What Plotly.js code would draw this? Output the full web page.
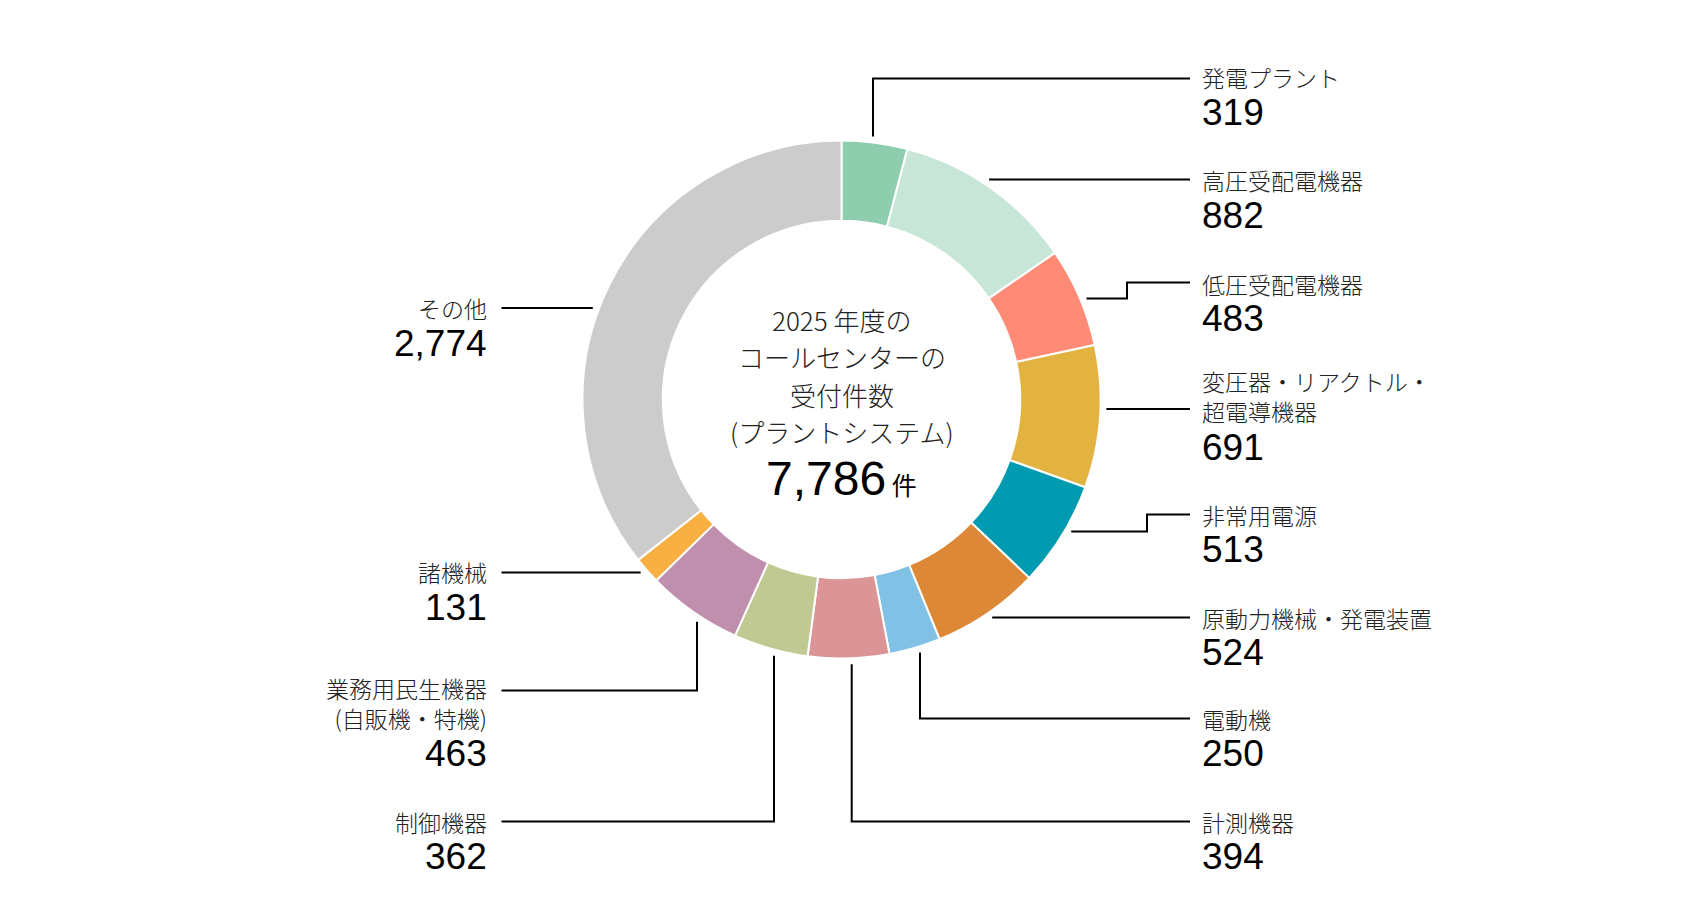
<!DOCTYPE html>
<html>
<head>
<meta charset="utf-8">
<script src="https://cdn.plot.ly/plotly-3.0.1.min.js"></script>
<style>html,body{margin:0;padding:0;background:#fff;}#chart{width:1684px;height:920px;}</style>
</head>
<body>
<div id="chart"></div>
<script>
// ---- data ----
const categories = ['発電プラント','高圧受配電機器','低圧受配電機器','変圧器・リアクトル・<br>超電導機器','非常用電源','原動力機械・発電装置','電動機','計測機器','制御機器','業務用民生機器<br>(自販機・特機)','諸機械','その他'];
const counts = [319, 882, 483, 691, 513, 524, 250, 394, 362, 463, 131, 2774];
const sliceColors = ['#8ECDAD','#C8E6D7','#FF8A75','#E3B342','#009BB1','#DD8836','#82C1E6','#DB9597','#C0C992','#C08FAD','#F8B042','#CCCCCC'];
const centerLines = ['2025 年度の','コールセンターの','受付件数','(プラントシステム)'];
const unitLabel = '件';

// ---- layout geometry ----
const W = 1684, H = 920;
const CX = 841.5, CY = 399.5, R = 259, HOLE = 0.69;
const px = x => x / W;
const py = y => 1 - y / H;
const CJK = "'Noto Sans CJK JP', 'Noto Sans', sans-serif";
const NUM = "'Liberation Sans', Arial, sans-serif";

// label placement per category (same order as categories)
// mode 'h': leader leaves the ring horizontally at lineY
// mode 'v': leader leaves the ring vertically at leadX, then turns to lineY
// mode 'step': leader leaves the ring horizontally at startY, steps at elbowX to lineY
const labelPlacement = [
  {side:'R', nameY:77.3,  lineY:78.4,  mode:'v', leadX:873},
  {side:'R', nameY:180.4, lineY:179.4, mode:'h'},
  {side:'R', nameY:283.5, lineY:282.5, mode:'step', startY:298.6, elbowX:1127},
  {side:'R', nameY:383,   lineY:409,   mode:'h'},
  {side:'R', nameY:514.5, lineY:514.5, mode:'step', startY:531.6, elbowX:1147},
  {side:'R', nameY:617.5, lineY:617.5, mode:'h'},
  {side:'R', nameY:718.5, lineY:718.5, mode:'v', leadX:920},
  {side:'R', nameY:821.6, lineY:821.6, mode:'v', leadX:851.7},
  {side:'L', nameY:821.6, lineY:821.6, mode:'v', leadX:774},
  {side:'L', nameY:689,   lineY:690.6, mode:'v', leadX:697},
  {side:'L', nameY:572.4, lineY:572.4, mode:'h'},
  {side:'L', nameY:308,   lineY:308,   mode:'h'}
];
const RIGHT_TEXT_X = 1201, RIGHT_LINE_END = 1190;
const LEFT_TEXT_X = 487.5, LEFT_LINE_END = 501.5;
const NAME_LINE_H = 27, NUM_GAP = 35, NUM_GAP_MULTI = 37.5;

const total = counts.reduce((a,b)=>a+b,0);

const trace = {
  type:'pie',
  values: counts,
  labels: categories,
  sort:false,
  direction:'clockwise',
  rotation:0,
  hole:HOLE,
  marker:{colors:sliceColors, line:{color:'#ffffff', width:2}},
  textinfo:'none',
  hoverinfo:'skip',
  showlegend:false,
  domain:{x:[px(CX-R), px(CX+R)], y:[py(CY+R), py(CY-R)]}
};

const annotations = [];
const shapes = [];
const rA = R + 6;
const ringX = (y, right) => { const dy = y - CY; const dx = Math.sqrt(Math.max(rA*rA - dy*dy, 0)); return CX + (right ? dx : -dx); };
const ringY = (x, below) => { const dx = x - CX; const dy = Math.sqrt(Math.max(rA*rA - dx*dx, 0)); return CY + (below ? dy : -dy); };

counts.forEach((v,i)=>{
  const p = labelPlacement[i];
  const right = p.side === 'R';
  const endX = right ? RIGHT_LINE_END : LEFT_LINE_END;
  let pts;
  if (p.mode === 'h') {
    pts = [[ringX(p.lineY, right), p.lineY],[endX, p.lineY]];
  } else if (p.mode === 'v') {
    const below = p.lineY > CY;
    pts = [[p.leadX, ringY(p.leadX, below)],[p.leadX, p.lineY],[endX, p.lineY]];
  } else {
    pts = [[ringX(p.startY, right), p.startY],[p.elbowX, p.startY],[p.elbowX, p.lineY],[endX, p.lineY]];
  }
  const path = pts.map((q,k)=>(k?'L':'M')+px(q[0]).toFixed(6)+','+py(q[1]).toFixed(6)).join(' ');
  shapes.push({type:'path', xref:'paper', yref:'paper', path:path, line:{color:'#000', width:2}});

  const nLines = categories[i].split('<br>').length;
  const tx = right ? RIGHT_TEXT_X : LEFT_TEXT_X;
  const nameCenter = p.nameY + (nLines-1)*NAME_LINE_H/2;
  annotations.push({xref:'paper', yref:'paper', x:px(tx), y:py(nameCenter),
    xanchor: right?'left':'right', yanchor:'middle', align: right?'left':'right',
    showarrow:false, text:categories[i], borderpad:0,
    font:{family:CJK, size:23, color:'#222', weight:300}});
  const numY = p.nameY + (nLines-1)*NAME_LINE_H + (nLines > 1 ? NUM_GAP_MULTI : NUM_GAP);
  annotations.push({xref:'paper', yref:'paper', x:px(tx), y:py(numY),
    xanchor: right?'left':'right', yanchor:'middle', showarrow:false, borderpad:0,
    text: v.toLocaleString('en-US'), font:{family:NUM, size:37, color:'#000'}});
});

// center text
const centerY0 = 319.5, centerStep = 37.3;
centerLines.forEach((t,k)=>{
  annotations.push({xref:'paper', yref:'paper', x:px(CX), y:py(centerY0 + k*centerStep),
    xanchor:'center', yanchor:'middle', showarrow:false, text:t, borderpad:0,
    font:{family:CJK, size:26, color:'#222', weight:300}});
});
annotations.push({xref:'paper', yref:'paper', x:px(CX), y:py(478), xanchor:'center', yanchor:'middle', showarrow:false, borderpad:0,
  text:"<span style='font-family:Liberation Sans, Arial, sans-serif;font-size:48px'>"+total.toLocaleString('en-US')+"</span> <span style='font-size:25px'>"+unitLabel+"</span>",
  font:{family:CJK, size:25, color:'#000'}});

const layout = {
  width:W, height:H,
  margin:{l:0,r:0,t:0,b:0},
  paper_bgcolor:'#ffffff', plot_bgcolor:'#ffffff',
  showlegend:false,
  annotations:annotations,
  shapes:shapes
};
Plotly.newPlot('chart', [trace], layout, {displayModeBar:false, staticPlot:true});
</script>
</body>
</html>
